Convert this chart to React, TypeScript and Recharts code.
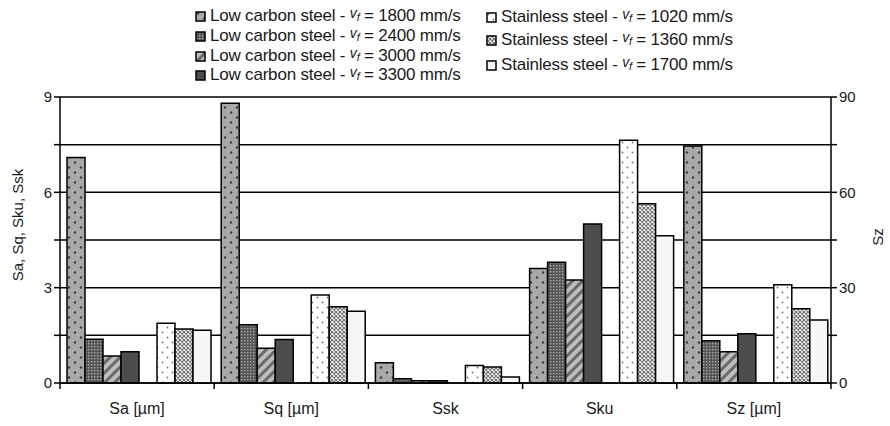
import React from 'react';
import { BarChart, Bar, XAxis, YAxis, CartesianGrid } from 'recharts';

const categories = ['Sa [µm]', 'Sq [µm]', 'Ssk', 'Sku', 'Sz [µm]'];
const rightCategory = 'Sz [µm]';

const lc1800 = [7.1, 8.8, 0.64, 3.6, 74.6];
const lc2400 = [1.38, 1.83, 0.13, 3.8, 13.3];
const lc3000 = [0.85, 1.09, 0.07, 3.24, 9.8];
const lc3300 = [0.98, 1.37, 0.07, 5.0, 15.5];
const ss1020 = [1.88, 2.77, 0.55, 7.64, 30.9];
const ss1360 = [1.7, 2.4, 0.5, 5.64, 23.4];
const ss1700 = [1.66, 2.26, 0.19, 4.63, 19.8];

const leftTicks = [0, 1.5, 3, 4.5, 6, 7.5, 9];
const rightTicks = [0, 15, 30, 45, 60, 75, 90];

type Series = { key: string; values: number[]; pat: string; material: string; speed: string };

const lowCarbon: Series[] = [
  { key: 'lc1800', values: lc1800, pat: 'p1', material: 'Low carbon steel', speed: '1800' },
  { key: 'lc2400', values: lc2400, pat: 'p2', material: 'Low carbon steel', speed: '2400' },
  { key: 'lc3000', values: lc3000, pat: 'p3', material: 'Low carbon steel', speed: '3000' },
  { key: 'lc3300', values: lc3300, pat: 'p4', material: 'Low carbon steel', speed: '3300' },
];
const stainless: Series[] = [
  { key: 'ss1020', values: ss1020, pat: 'p5', material: 'Stainless steel', speed: '1020' },
  { key: 'ss1360', values: ss1360, pat: 'p6', material: 'Stainless steel', speed: '1360' },
  { key: 'ss1700', values: ss1700, pat: 'p7', material: 'Stainless steel', speed: '1700' },
];
const allSeries = [...lowCarbon, ...stainless];

const rows = categories.map((cat, i) => {
  const row: Record<string, string | number | null> = { cat };
  allSeries.forEach((s) => {
    row[s.key + '_L'] = cat === rightCategory ? null : s.values[i];
    row[s.key + '_R'] = cat === rightCategory ? s.values[i] : null;
  });
  return row;
});

const FONT = '"Liberation Sans", Arial, sans-serif';
const TXT = '#1a1a1a';
const X_TICK_SIZE = 6;
const X_TICK_MARGIN = 14;

const Patterns = () => (
  <defs>
    <pattern id="p1" patternUnits="userSpaceOnUse" width="12" height="10">
      <rect width="12" height="10" fill="#a8a8a8" />
      <rect x="0" y="0" width="1" height="1" fill="#c0c0c0" />
      <rect x="6" y="5" width="1" height="1" fill="#c0c0c0" />
      <circle cx="3" cy="2.5" r="1.2" fill="#3f3f3f" />
      <circle cx="9" cy="7.5" r="1.2" fill="#3f3f3f" />
    </pattern>
    <pattern id="p2" patternUnits="userSpaceOnUse" width="3" height="3">
      <rect width="3" height="3" fill="#555" />
      <rect x="1" y="1" width="1.4" height="1.4" fill="#aaa" />
    </pattern>
    <pattern id="p3" patternUnits="userSpaceOnUse" width="7" height="7" patternTransform="rotate(45)">
      <rect width="7" height="7" fill="#bdbdbd" />
      <rect width="3" height="7" fill="#6a6a6a" />
    </pattern>
    <pattern id="p4" patternUnits="userSpaceOnUse" width="4" height="4">
      <rect width="4" height="4" fill="#4d4d4d" />
    </pattern>
    <pattern id="p5" patternUnits="userSpaceOnUse" width="10" height="10">
      <rect width="10" height="10" fill="#ffffff" />
      <circle cx="2.5" cy="2.5" r="0.9" fill="#777" />
      <circle cx="7.5" cy="7.5" r="0.9" fill="#777" />
    </pattern>
    <pattern id="p6" patternUnits="userSpaceOnUse" width="4" height="4">
      <rect width="4" height="4" fill="#ffffff" />
      <path d="M0,0 L4,4 M4,0 L0,4" stroke="#6e6e6e" strokeWidth="1.1" />
    </pattern>
    <pattern id="p7" patternUnits="userSpaceOnUse" width="4" height="4">
      <rect width="4" height="4" fill="#f6f6f6" />
    </pattern>
  </defs>
);

const LegendItem = ({ s, x, y }: { s: Series; x: number; y: number }) => (
  <div
    style={{
      position: 'absolute',
      left: x,
      top: y - 11,
      height: 22,
      display: 'flex',
      alignItems: 'center',
      whiteSpace: 'nowrap',
      fontFamily: FONT,
      fontSize: 17,
      color: TXT,
      letterSpacing: -0.2,
    }}
  >
    <svg width="11" height="11" style={{ marginRight: 4, flex: 'none' }}>
      <rect x="1" y="1" width="9" height="9" fill={`url(#${s.pat})`} stroke="#000" strokeWidth="1.5" />
    </svg>
    <span>
      {s.material} -{' '}
      <span style={{ fontStyle: 'italic', fontSize: 14, position: 'relative', top: -3 }}>
        v<span style={{ fontSize: 11, position: 'relative', top: 3 }}>f</span>
      </span>{' '}
      = {s.speed} mm/s
    </span>
  </div>
);

const leftRowsY = [16, 36, 56, 75];
const rightRowsY = [17, 40, 65];

const CategoryTick = (props: any) => {
  const { x, y, payload, index, visibleTicksCount, width } = props;
  const half = width / visibleTicksCount / 2;
  const axisY = y - X_TICK_SIZE - X_TICK_MARGIN;
  const left = x - half;
  const right = x + half;
  return (
    <g>
      <line x1={left} y1={axisY} x2={left} y2={axisY + X_TICK_SIZE} stroke="#000" strokeWidth={1.5} />
      {index === visibleTicksCount - 1 && (
        <line x1={right} y1={axisY} x2={right} y2={axisY + X_TICK_SIZE} stroke="#000" strokeWidth={1.5} />
      )}
      <text x={x} y={y} dy="0.71em" textAnchor="middle" fill={TXT} fontSize={16} fontFamily={FONT}>
        {payload.value}
      </text>
    </g>
  );
};

const LeftTitle = (props: any) => {
  const vb = props.viewBox || {};
  const cx = vb.x + 17;
  const cy = vb.y + vb.height / 2 - 15;
  return (
    <text
      x={cx}
      y={cy}
      transform={`rotate(-90, ${cx}, ${cy})`}
      textAnchor="middle"
      dominantBaseline="central"
      fill={TXT}
      fontSize={15}
      fontFamily={FONT}
    >
      Sa, Sq, Sku, Ssk
    </text>
  );
};

const RightTitle = (props: any) => {
  const vb = props.viewBox || {};
  const cx = vb.x + vb.width - 13;
  const cy = vb.y + vb.height / 2 - 3;
  return (
    <text
      x={cx}
      y={cy}
      transform={`rotate(-90, ${cx}, ${cy})`}
      textAnchor="middle"
      dominantBaseline="central"
      fill={TXT}
      fontSize={15}
      fontFamily={FONT}
    >
      Sz
    </text>
  );
};

export default function App() {
  const barProps = { stroke: '#000', strokeWidth: 1.5, isAnimationActive: false };
  return (
    <div style={{ position: 'absolute', left: 0, top: 0, width: 890, height: 426, background: '#fff' }}>
      <BarChart
        width={890}
        height={426}
        data={rows}
        margin={{ top: 97, right: 0, bottom: 13, left: 0 }}
        barCategoryGap={7}
        barGap={0}
      >
        <Patterns />
        <CartesianGrid yAxisId="left" vertical={false} stroke="#000" strokeWidth={1.5} fill="none" />
        <XAxis
          dataKey="cat"
          tickLine={false}
          tickSize={X_TICK_SIZE}
          tickMargin={X_TICK_MARGIN}
          axisLine={{ stroke: '#000', strokeWidth: 1.5 }}
          tick={<CategoryTick />}
          height={30}
          interval={0}
        />
        <YAxis
          yAxisId="left"
          domain={[0, 9]}
          ticks={leftTicks}
          tickFormatter={(v: number) => (v % 3 === 0 ? String(v) : '')}
          width={60}
          tickSize={6}
          axisLine={{ stroke: '#000', strokeWidth: 1.5 }}
          tickLine={{ stroke: '#000', strokeWidth: 1.5 }}
          tick={{ fill: TXT, fontSize: 15, fontFamily: FONT }}
          label={<LeftTitle />}
        />
        <YAxis
          yAxisId="right"
          orientation="right"
          domain={[0, 90]}
          ticks={rightTicks}
          tickFormatter={(v: number) => (v % 30 === 0 ? String(v) : '')}
          width={59}
          tickSize={6}
          axisLine={{ stroke: '#000', strokeWidth: 1.5 }}
          tickLine={{ stroke: '#000', strokeWidth: 1.5 }}
          tick={{ fill: TXT, fontSize: 15, fontFamily: FONT }}
          label={<RightTitle />}
        />
        {lowCarbon.map((s) => (
          <Bar key={s.key + 'L'} yAxisId="left" dataKey={s.key + '_L'} stackId={'st_' + s.key} fill={`url(#${s.pat})`} {...barProps} />
        ))}
        <Bar yAxisId="left" dataKey="gap_L" stackId="st_gap" fill="none" stroke="none" isAnimationActive={false} />
        {stainless.map((s) => (
          <Bar key={s.key + 'L'} yAxisId="left" dataKey={s.key + '_L'} stackId={'st_' + s.key} fill={`url(#${s.pat})`} {...barProps} />
        ))}
        {allSeries.map((s) => (
          <Bar key={s.key + 'R'} yAxisId="right" dataKey={s.key + '_R'} stackId={'st_' + s.key} fill={`url(#${s.pat})`} {...barProps} />
        ))}
      </BarChart>
      {lowCarbon.map((s, i) => (
        <LegendItem key={s.key} s={s} x={195} y={leftRowsY[i]} />
      ))}
      {stainless.map((s, i) => (
        <LegendItem key={s.key} s={s} x={486} y={rightRowsY[i]} />
      ))}
    </div>
  );
}
